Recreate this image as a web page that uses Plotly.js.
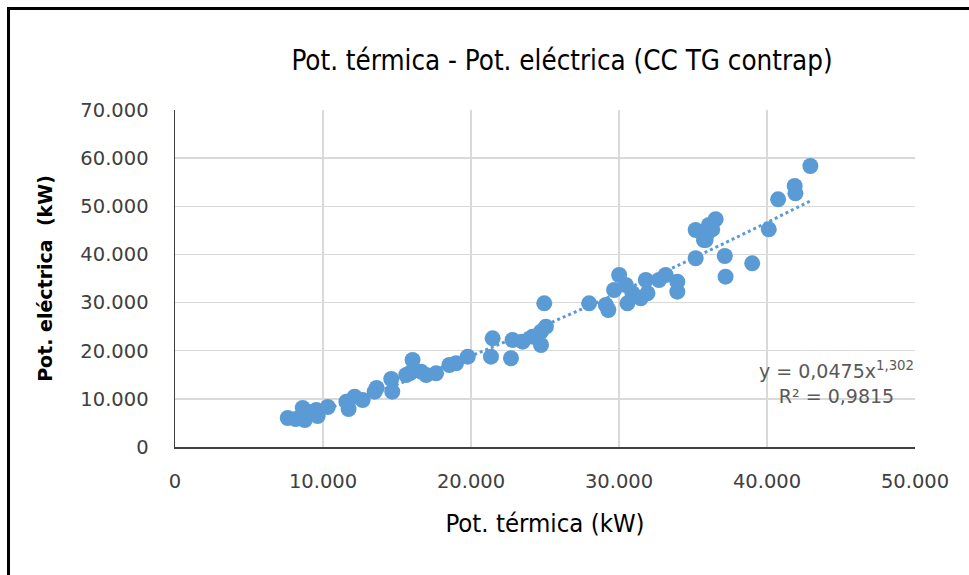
<!DOCTYPE html>
<html>
<head>
<meta charset="utf-8">
<script src="https://cdn.plot.ly/plotly-3.0.1.min.js"></script>
<style>
  html, body { margin: 0; padding: 0; background: #ffffff; }
  #wrap { position: relative; width: 969px; height: 575px; overflow: hidden; }
  #chart { position: absolute; left: 0; top: 0; width: 969px; height: 575px; }
  #frame { position: absolute; left: 7px; top: 7px; width: 980px; height: 600px;
           border-left: 3px solid #000; border-top: 3px solid #000; pointer-events: none; }
</style>
</head>
<body>
<div id="wrap">
  <div id="chart"></div>
  <div id="frame"></div>
</div>
<script>
// Pot. térmica (kW)
const potTermica = [
  7620, 8160, 8630, 8770, 9100, 9550, 9640, 10320,
  11580, 11730, 12140, 12680, 13490, 13620, 14610, 14680, 15620, 16050,
  15850, 16630, 16970, 17640, 18540, 18990, 19780, 21350, 21460, 22700,
  22810, 23490, 24160, 24730, 24730, 25060, 24950,
  27980, 29110, 29280, 30010, 29670, 30460, 30570, 30910, 31470, 31810,
  31920, 32700, 33150, 33940, 33940, 35180,
  35740, 35180, 35620, 35850, 36080, 36530, 36300, 35900,
  37150, 37200, 39000, 40120, 40750, 41870, 41920, 42930
];
// Pot. eléctrica (kW)
const potElectrica = [
  6020, 5820, 8100, 5610, 7270, 7690, 6440, 8310,
  9410, 7890, 10450, 9760, 11490, 12260, 14120, 11490, 14960, 18070,
  15310, 15640, 14960, 15310, 17030, 17390, 18760, 18760, 22580, 18430,
  22230, 21880, 22910, 23950, 21190, 24990, 29850,
  29850, 29500, 28460, 35730, 32610, 33650, 29850, 31930, 30890, 34690,
  31930, 34690, 35730, 34340, 32260, 39200,
  43000, 45080, 44730, 43000, 46120, 47300, 45200, 44000,
  39680, 35380, 38160, 45220, 51450, 54220, 52700, 58370
];
// Trendline (potencial) as shown in the chart: y = 0,0475 x^1,302
const trendA = 0.0475;
const trendB = 1.302;
const trendLabel = 'y = 0,0475x<sup>1,302</sup><br>R² = 0,9815';
const xTicks = [0, 10000, 20000, 30000, 40000, 50000];
const yTicks = [0, 10000, 20000, 30000, 40000, 50000, 60000, 70000];

const xMin = Math.min(...potTermica), xMax = Math.max(...potTermica);
const trendX = [], trendY = [];
for (let i = 0; i <= 100; i++) {
  const x = xMin + (xMax - xMin) * i / 100;
  trendX.push(x);
  trendY.push(trendA * Math.pow(x, trendB));
}

const blue = '#5b9bd5';
const data = [
  { x: potTermica, y: potElectrica, type: 'scatter', mode: 'markers',
    marker: { color: blue, size: 16 }, hoverinfo: 'x+y', showlegend: false },
  { x: trendX, y: trendY, type: 'scatter', mode: 'lines',
    line: { color: blue, width: 3, dash: 'dot' }, hoverinfo: 'skip', showlegend: false }
];

const narrow = 'Liberation Sans Narrow, DejaVu Sans Condensed, sans-serif';
const tickFont = { family: 'DejaVu Sans, sans-serif', size: 19.5, color: '#404040' };
const layout = {
  width: 969, height: 575,
  margin: { l: 175, r: 54, t: 110, b: 128 },
  paper_bgcolor: '#ffffff', plot_bgcolor: '#ffffff',
  separators: ',.',
  showlegend: false,
  title: {
    text: 'Pot. térmica - Pot. eléctrica (CC TG contrap)',
    font: { family: narrow, size: 27.5, color: '#000000' },
    xref: 'container', yref: 'container', x: 0.58, xanchor: 'center', y: 1 - 60 / 575, yanchor: 'middle'
  },
  xaxis: {
    range: [0, 50000], tickvals: xTicks, tickformat: ',d',
    showgrid: true, gridcolor: '#d9d9d9', gridwidth: 1.3,
    showline: true, linecolor: '#404040', linewidth: 1.5,
    zeroline: false, ticks: '', ticklabelstandoff: 16,
    tickfont: tickFont,
    title: { text: 'Pot. térmica (kW)', standoff: 22,
             font: { family: narrow, size: 25.5, color: '#000000' } }
  },
  yaxis: {
    range: [0, 70000], tickvals: yTicks, tickformat: ',d',
    showgrid: true, gridcolor: '#d9d9d9', gridwidth: 1.3,
    showline: true, linecolor: '#404040', linewidth: 1.5,
    zeroline: false, ticks: '', ticklabelstandoff: 21,
    tickfont: tickFont,
    title: { text: 'Pot. eléctrica  (kW)', standoff: 22,
             font: { family: 'DejaVu Sans, sans-serif', size: 19, color: '#000000', weight: 'bold' } }
  },
  annotations: [{
    text: trendLabel, xref: 'paper', yref: 'paper',
    x: (836 - 175) / 740, y: (447 - 382) / 337, xanchor: 'center', yanchor: 'middle',
    showarrow: false, align: 'center',
    font: { family: 'DejaVu Sans, sans-serif', size: 19, color: '#595959' }
  }]
};

Plotly.newPlot('chart', data, layout, { displayModeBar: false, staticPlot: true });
</script>
</body>
</html>
